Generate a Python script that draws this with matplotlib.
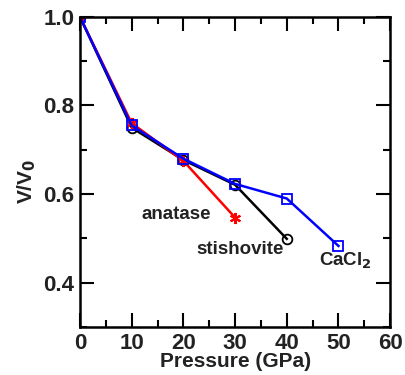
import matplotlib as mpl
mpl.use("Agg")
import matplotlib.pyplot as plt
from matplotlib.ticker import MultipleLocator

plt.rcParams["font.family"] = ["Liberation Sans", "DejaVu Sans"]
plt.rcParams["font.weight"] = "bold"

# data
p_anatase = [0, 10, 20, 30]
v_anatase = [1.0, 0.760, 0.675, 0.547]

p_stishovite = [0, 10, 20, 30, 40]
v_stishovite = [1.0, 0.750, 0.677, 0.621, 0.499]

p_cacl2 = [0, 10, 20, 30, 40, 50]
v_cacl2 = [1.0, 0.755, 0.680, 0.623, 0.590, 0.483]

txt = "#222222"

fig = plt.figure(figsize=(4.06, 3.75), dpi=100)
ax = fig.add_axes([0.197, 0.128, 0.764, 0.827])

ax.plot(p_stishovite, v_stishovite, "-o", color="black", lw=1.8,
        ms=7, mfc="none", mec="black", mew=1.3)
ax.plot(p_anatase, v_anatase, "-", marker=(6, 2, 0), color="red", lw=1.8,
        ms=8, mec="red", mew=1.5)
ax.plot(p_cacl2, v_cacl2, "-s", color="blue", lw=1.8,
        ms=6.5, mfc="none", mec="blue", mew=1.3)

ax.text(18.6, 0.555, "anatase", ha="center", va="center", fontsize=13.5, fontweight="bold", color=txt)
ax.text(31.0, 0.476, "stishovite", ha="center", va="center", fontsize=13.5, fontweight="bold", color=txt)
ax.text(51.3, 0.449, "CaCl$_\\mathbf{2}$", ha="center", va="center", fontsize=13.5, fontweight="bold", color=txt)

ax.set_xlim(0, 60)
ax.set_ylim(0.30, 1.0)
ax.xaxis.set_major_locator(MultipleLocator(10))
ax.xaxis.set_minor_locator(MultipleLocator(5))
ax.yaxis.set_major_locator(MultipleLocator(0.2))
ax.yaxis.set_minor_locator(MultipleLocator(0.1))
ax.tick_params(which="both", direction="in", top=True, right=True, width=1.5)
ax.tick_params(which="major", length=10, labelsize=16, pad=4)
ax.tick_params(which="minor", length=5)
for lab in ax.get_xticklabels() + ax.get_yticklabels():
    lab.set_fontweight("bold")
    lab.set_color(txt)
for s in ax.spines.values():
    s.set_linewidth(1.8)

ax.set_xlabel("Pressure (GPa)", fontsize=15, fontweight="bold", labelpad=-1, color=txt)
ax.set_ylabel("V/V$_\\mathbf{0}$", fontsize=15, fontweight="bold", color=txt)
ax.yaxis.set_label_coords(-0.135, 0.47)

fig.savefig("out.png", dpi=100)
